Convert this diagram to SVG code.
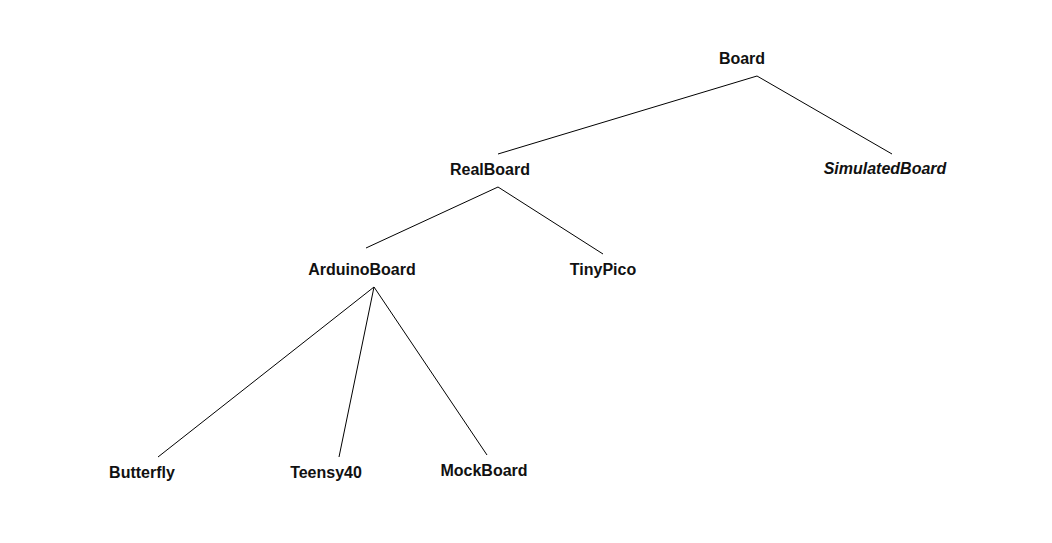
<svg xmlns="http://www.w3.org/2000/svg" width="1052" height="543" viewBox="0 0 1052 543">
<style>
text{font-family:"Liberation Sans",Arial,sans-serif;font-size:16px;font-weight:bold;fill:#111;text-anchor:middle}
.it{font-style:italic}
line{stroke:#000;stroke-width:1}
</style>
<rect width="1052" height="543" fill="#fff"/>
<g id="connectors">
<line x1="757" y1="76" x2="498" y2="154"/>
<line x1="757" y1="76" x2="892" y2="154"/>
<line x1="498" y1="187" x2="366" y2="248"/>
<line x1="498" y1="187" x2="603" y2="254"/>
<line x1="374" y1="287" x2="158" y2="457"/>
<line x1="374" y1="287" x2="339" y2="457"/>
<line x1="374" y1="287" x2="487" y2="455"/>
</g>
<g id="Board"><text x="742" y="64">Board</text></g>
<g id="RealBoard"><text x="490" y="175">RealBoard</text></g>
<g id="SimulatedBoard"><text class="it" x="885" y="174">SimulatedBoard</text></g>
<g id="ArduinoBoard"><text x="362" y="275">ArduinoBoard</text></g>
<g id="TinyPico"><text x="603" y="275">TinyPico</text></g>
<g id="Butterfly"><text x="142" y="478">Butterfly</text></g>
<g id="Teensy40"><text x="326" y="478">Teensy40</text></g>
<g id="MockBoard"><text x="484" y="476">MockBoard</text></g>
</svg>
